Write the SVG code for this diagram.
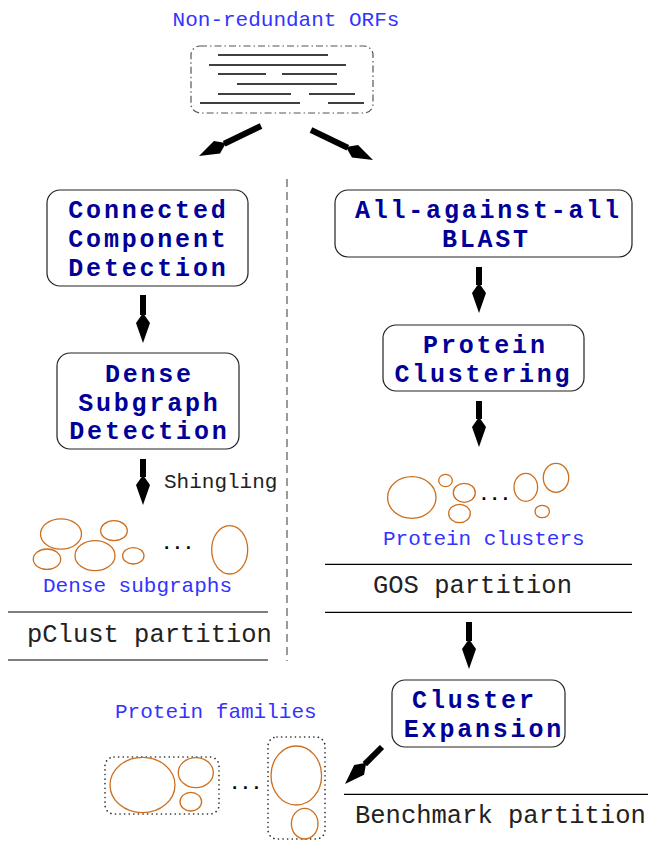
<svg xmlns="http://www.w3.org/2000/svg" width="648" height="841" viewBox="0 0 648 841">
<style>
.box{fill:#fff;stroke:#222;stroke-width:1.2}
.bt{font-family:"Liberation Mono",monospace;font-weight:bold;font-size:25px;letter-spacing:2.8px;fill:#000099;text-anchor:middle}
.lbl{font-family:"Liberation Mono",monospace;font-size:21px;fill:#3333ff}
.blk{font-family:"Liberation Mono",monospace;font-size:21px;fill:#222}
.part{font-family:"Liberation Mono",monospace;font-size:25.5px;fill:#222}
.dots{font-family:"Liberation Mono",monospace;font-weight:bold;font-size:18px;fill:#000;text-anchor:middle}
.ell{fill:none;stroke:#cc6f1e;stroke-width:1.3}
.rule{stroke:#000;stroke-width:1.2}
.orf{stroke:#000;stroke-width:1.3}
.arr{stroke:#000;stroke-width:6;fill:none;marker-end:url(#head)}
</style>
<defs>
<marker id="head" markerUnits="userSpaceOnUse" markerWidth="32" markerHeight="16" viewBox="0 -8 32 16" refX="2" refY="0" orient="auto">
<path d="M0,0 L10,-7 L30,0 L10,7 Z" fill="#000"/>
</marker>
</defs>

<g id="orfs">
<text class="lbl" x="286" y="26" text-anchor="middle">Non-redundant ORFs</text>
<rect x="191" y="46" width="182" height="67" rx="9" fill="none" stroke="#555" stroke-width="1.2" stroke-dasharray="7 3 1.5 3"/>
<line class="orf" x1="218" y1="55" x2="328" y2="55"/>
<line class="orf" x1="209" y1="65" x2="346" y2="65"/>
<line class="orf" x1="218" y1="74" x2="266" y2="74"/>
<line class="orf" x1="282" y1="74" x2="337" y2="74"/>
<line class="orf" x1="237" y1="84" x2="337" y2="84"/>
<line class="orf" x1="218" y1="94" x2="291" y2="94"/>
<line class="orf" x1="309" y1="94" x2="355" y2="94"/>
<line class="orf" x1="200" y1="103" x2="300" y2="103"/>
<line class="orf" x1="328" y1="103" x2="364" y2="103"/>
</g>

<line id="divider" x1="287" y1="179" x2="287" y2="661" stroke="#666" stroke-width="1.3" stroke-dasharray="8 5"/>

<g id="ccd">
<rect class="box" x="47" y="190" width="201" height="96" rx="13"/>
<text class="bt" x="148.4" y="218">Connected</text>
<text class="bt" x="148.4" y="247">Component</text>
<text class="bt" x="148.4" y="276">Detection</text>
</g>

<g id="dsd">
<rect class="box" x="57" y="353" width="182" height="96" rx="13"/>
<text class="bt" x="149.4" y="382">Dense</text>
<text class="bt" x="149.4" y="411">Subgraph</text>
<text class="bt" x="149.4" y="439">Detection</text>
</g>

<g id="blast">
<rect class="box" x="335" y="190" width="297" height="67" rx="13"/>
<text class="bt" x="488.4" y="218">All-against-all</text>
<text class="bt" x="486.4" y="247">BLAST</text>
</g>

<g id="pc">
<rect class="box" x="383" y="325" width="201" height="66" rx="13"/>
<text class="bt" x="485.4" y="353">Protein</text>
<text class="bt" x="483.4" y="382">Clustering</text>
</g>

<g id="ce">
<rect class="box" x="392" y="680" width="173" height="67" rx="13"/>
<text class="bt" x="474.4" y="708">Cluster</text>
<text class="bt" x="483.9" y="737">Expansion</text>
</g>

<g id="dense-subgraphs">
<ellipse class="ell" cx="61" cy="534" rx="20.5" ry="15.2"/>
<ellipse class="ell" cx="114" cy="530.7" rx="13.3" ry="10"/>
<ellipse class="ell" cx="47" cy="559.2" rx="13.7" ry="10.2"/>
<ellipse class="ell" cx="95" cy="555.7" rx="20" ry="15"/>
<ellipse class="ell" cx="133.3" cy="555.8" rx="10.7" ry="8.2"/>
<ellipse class="ell" cx="229.7" cy="549.8" rx="18" ry="24.2"/>
<text class="dots" x="177.5" y="549">...</text>
<text class="lbl" x="43" y="592">Dense subgraphs</text>
</g>

<g id="pclust">
<line class="rule" x1="8" y1="612" x2="268" y2="612"/>
<text class="part" x="27" y="642">pClust partition</text>
<line class="rule" x1="8" y1="660" x2="268" y2="660"/>
</g>

<g id="protein-clusters">
<ellipse class="ell" cx="411.8" cy="497.5" rx="24.2" ry="20.8"/>
<ellipse class="ell" cx="445.5" cy="480.5" rx="6.8" ry="6.2"/>
<ellipse class="ell" cx="464.3" cy="492.8" rx="11" ry="9.5"/>
<ellipse class="ell" cx="459.5" cy="513.5" rx="10.8" ry="9.2"/>
<ellipse class="ell" cx="525.8" cy="487.3" rx="11.8" ry="14"/>
<ellipse class="ell" cx="556" cy="477.8" rx="12.7" ry="14.5"/>
<ellipse class="ell" cx="542.2" cy="511.5" rx="7.2" ry="6.2"/>
<text class="dots" x="494.7" y="500">...</text>
<text class="lbl" x="383" y="545">Protein clusters</text>
</g>

<g id="gos">
<line class="rule" x1="325" y1="564.3" x2="632" y2="564.3"/>
<text class="part" x="373" y="593">GOS partition</text>
<line class="rule" x1="325" y1="612.3" x2="632" y2="612.3"/>
</g>

<g id="protein-families">
<text class="lbl" x="115" y="718">Protein families</text>
<rect x="105" y="757" width="114" height="57" rx="9" fill="none" stroke="#222" stroke-width="1.6" stroke-dasharray="0.1 4.5" stroke-linecap="round"/>
<rect x="268" y="737" width="57" height="102" rx="9" fill="none" stroke="#222" stroke-width="1.6" stroke-dasharray="0.1 4.5" stroke-linecap="round"/>
<ellipse class="ell" cx="142.5" cy="785" rx="32.5" ry="27.7"/>
<ellipse class="ell" cx="195.8" cy="772.7" rx="17.5" ry="15"/>
<ellipse class="ell" cx="190.8" cy="801.7" rx="10.8" ry="9.3"/>
<ellipse class="ell" cx="296.3" cy="775.5" rx="25.3" ry="29.5"/>
<ellipse class="ell" cx="304.7" cy="823.7" rx="13.3" ry="15.3"/>
<text class="dots" x="245.5" y="789">...</text>
</g>

<g id="benchmark">
<line class="rule" x1="344" y1="794.3" x2="648" y2="794.3"/>
<text class="part" x="355" y="823">Benchmark partition</text>
</g>

<g id="connectors">
<line class="arr" x1="261" y1="126" x2="224.2" y2="143.8"/>
<line class="arr" x1="311" y1="130" x2="347.8" y2="147.8"/>
<line class="arr" x1="143" y1="295" x2="143" y2="315"/>
<line class="arr" x1="143" y1="459" x2="143" y2="477"/>
<text class="blk" x="164" y="488">Shingling</text>
<line class="arr" x1="479" y1="267" x2="479" y2="285"/>
<line class="arr" x1="479" y1="401" x2="479" y2="419"/>
<line class="arr" x1="469" y1="622" x2="469" y2="641"/>
<line class="arr" x1="382" y1="747" x2="364.8" y2="764.2"/>
</g>
</svg>
